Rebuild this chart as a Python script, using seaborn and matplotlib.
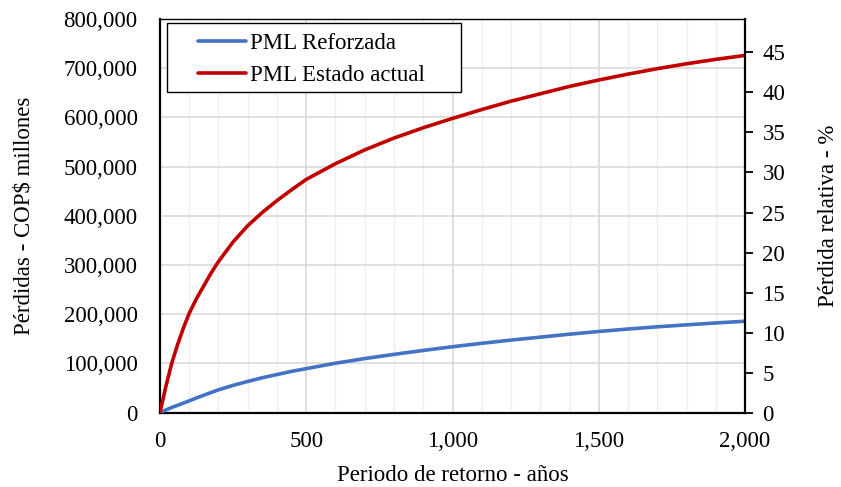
import matplotlib
matplotlib.use("Agg")
import matplotlib.pyplot as plt
import matplotlib.ticker as mticker
from matplotlib.patches import Rectangle
import pandas as pd
import seaborn as sns

# Periodo de retorno (años)
periodo = [0, 20, 40, 60, 80, 100, 125, 150, 175, 200, 250, 300, 350, 400,
           450, 500, 600, 700, 800, 900, 1000, 1100, 1200, 1300, 1400, 1500,
           1600, 1700, 1800, 1900, 2000]

# Pérdida máxima probable (COP$ millones)
pml_reforzada = [0, 5500, 10500, 15000, 19500, 24000, 30000, 35500, 41000,
                 46500, 55500, 63500, 71000, 77500, 84000, 89500, 100500,
                 110000, 118500, 126500, 134000, 141000, 147500, 153500,
                 159500, 165000, 170000, 174500, 178500, 182300, 185800]
pml_actual = [0, 53000, 100000, 138000, 172000, 202000, 232000, 258000,
              284000, 307000, 347000, 380000, 407000, 431000, 453000, 474000,
              506000, 534000, 558000, 579000, 598000, 616000, 633000, 648000,
              663000, 676000, 688000, 699000, 709000, 718000, 726000]

series = ["PML Reforzada", "PML Estado actual"]
colores = ["#4472C4", "#C00000"]

# Valor expuesto total (COP$ millones) para la pérdida relativa
valor_expuesto = 1_627_000

y_ticks = [0, 100000, 200000, 300000, 400000, 500000, 600000, 700000, 800000]
x_ticks = [0, 500, 1000, 1500, 2000]
pct_ticks = [0, 5, 10, 15, 20, 25, 30, 35, 40, 45]

df = pd.DataFrame({
    "periodo": periodo * 2,
    "perdida": pml_reforzada + pml_actual,
    "serie": [series[0]] * len(periodo) + [series[1]] * len(periodo),
})

sns.set_theme(style="white")
plt.rcParams["font.family"] = ["Liberation Serif", "DejaVu Serif"]
fs = 16.5
lw = 2.6

fig = plt.figure(figsize=(8.41, 4.87), dpi=100)
ax = fig.add_axes([0.1902, 0.1526, 0.6957, 0.8084])

sns.lineplot(data=df, x="periodo", y="perdida", hue="serie",
             palette=dict(zip(series, colores)), linewidth=lw, ax=ax,
             legend=False, zorder=3)
for ln in ax.get_lines():
    ln.set_solid_joinstyle("round")
    ln.set_solid_capstyle("round")

ax.set_xlim(x_ticks[0], x_ticks[-1])
ax.set_ylim(y_ticks[0], y_ticks[-1])
ax.set_xticks(x_ticks)
ax.set_yticks(y_ticks)
ax.xaxis.set_minor_locator(mticker.MultipleLocator(100))
fmt = mticker.FuncFormatter(lambda v, p: f"{v:,.0f}")
ax.xaxis.set_major_formatter(fmt)
ax.yaxis.set_major_formatter(fmt)

ax.set_axisbelow(True)
ax.grid(which="major", axis="both", color="#d9d9d9", linewidth=1.2)
ax.grid(which="minor", axis="x", color="#efefef", linewidth=1.0)

ax.tick_params(axis="x", which="both", length=0, pad=13, labelsize=fs,
               colors="black")
ax.tick_params(axis="y", which="both", length=0, pad=16, labelsize=fs,
               colors="black")

for side in ["left", "bottom"]:
    ax.spines[side].set_color("black")
    ax.spines[side].set_linewidth(1.6)
ax.spines["top"].set_color("black")
ax.spines["top"].set_linewidth(1.0)
ax.spines["right"].set_visible(False)

ax.set_xlabel("Periodo de retorno - años", fontsize=fs, color="black")
ax.set_ylabel("Pérdidas - COP$ millones", fontsize=fs, color="black")
ax.xaxis.set_label_coords(0.5, -0.132)
ax.yaxis.set_label_coords(-0.214, 0.5)

# Eje secundario: pérdida relativa respecto al valor expuesto
ax2 = ax.twinx()
ax2.set_ylim(y_ticks[0] / valor_expuesto * 100,
             y_ticks[-1] / valor_expuesto * 100)
ax2.set_yticks(pct_ticks)
ax2.grid(False)
for side in ["left", "bottom", "top"]:
    ax2.spines[side].set_visible(False)
ax2.spines["right"].set_color("black")
ax2.spines["right"].set_linewidth(1.6)
ax2.tick_params(axis="y", direction="out", length=5.5, width=1.3,
                pad=7, labelsize=fs, colors="black")
ax2.set_ylabel("Pérdida relativa - %", fontsize=fs, color="black")
ax2.yaxis.set_label_coords(1.125, 0.5)

# Leyenda con marco
ax2.add_patch(Rectangle((0.0115, 0.8153), 0.503, 0.1737,
                        transform=ax2.transAxes, facecolor="white",
                        edgecolor="black", linewidth=1.0, zorder=5))
handles = [plt.Line2D([], [], color=c, linewidth=lw) for c in colores]
leg = ax2.legend(handles, series, loc="upper left",
                 bbox_to_anchor=(0.065, 0.9644), frameon=False,
                 borderpad=0, borderaxespad=0, handlelength=2.1,
                 handletextpad=0.15, labelspacing=0.47, fontsize=fs)
leg.set_zorder(6)
for t in leg.get_texts():
    t.set_color("black")

fig.savefig("out.png", dpi=100, facecolor="white")
